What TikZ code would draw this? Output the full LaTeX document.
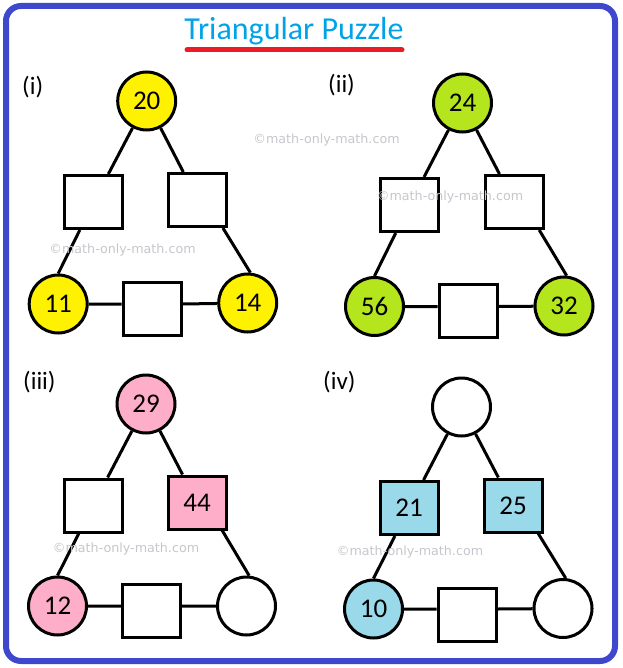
\documentclass[tikz,border=0pt]{standalone}
\usepackage{fontspec}
\setmainfont{Carlito}
\newfontfamily\markfont{DejaVu Sans}
\usepackage{tikz}
\usetikzlibrary{calc}

\definecolor{frameblue}{HTML}{3F48CC}
\definecolor{titleblue}{HTML}{00A2E8}
\definecolor{linered}{HTML}{ED1C24}
\definecolor{sunfill}{HTML}{FFF200}
\definecolor{limefill}{HTML}{B5E61D}
\definecolor{rosefill}{HTML}{FFAEC9}
\definecolor{skyfill}{HTML}{99D9EA}
\definecolor{markgray}{HTML}{C6C6CC}

\begin{document}
\begin{tikzpicture}[x=1pt, y=-1pt,
  numcirc/.style={circle, draw, line width=3pt, minimum size=58pt, inner sep=0pt, fill=white, font=\fontsize{27}{30}\selectfont},
  numbox/.style={rectangle, draw, line width=3pt, minimum width=58pt, minimum height=53pt, inner sep=0pt, fill=white, font=\fontsize{27}{30}\selectfont},
  link/.style={line width=3pt},
  tag/.style={anchor=west, inner sep=0pt, font=\fontsize{25}{28}\selectfont},
  wmark/.style={markgray, inner sep=0pt, font=\markfont\fontsize{12.7}{14}\selectfont}]
  \useasboundingbox (0,0) rectangle (622,668);

  % Frame
  \draw[frameblue, line width=6pt, rounded corners=15pt] (6,6) rectangle (615,661);

  % Title
  \node[titleblue, anchor=base, inner sep=0pt, font=\fontsize{32}{36}\selectfont] (title) at (294,39.3) {Triangular Puzzle};
  \draw[linered, line width=5pt, line cap=round] (187,50) -- (402,50);

  % Labels
  \node[tag] (n1) at (22,87) {(i)};
  \node[tag] (n2) at (328,85) {(ii)};
  \node[tag] (n3) at (23,382) {(iii)};
  \node[tag] (n4) at (323,382) {(iv)};

  % Puzzle (i)
  \begin{scope}[shift={(146.7,101)}]
    \node[numcirc, fill=sunfill] (t1) at (0,0) {20};
    \node[numbox] (l1) at (-53,101) {};
    \node[numbox] (r1) at (51,99) {};
    \node[numcirc, fill=sunfill] (bl1) at (-88.5,203) {11};
    \node[numcirc, fill=sunfill] (br1) at (101,202) {14};
    \node[numbox] (b1) at (5.5,207.5) {};
    \draw[link] (t1) -- (l1) (t1) -- (r1) (l1) -- (bl1.north) (r1.-48) -- (br1.85)
      (bl1) -- (bl1 -| b1.west) (b1.east |- bl1) -- (br1);
  \end{scope}

  % Puzzle (ii)
  \begin{scope}[shift={(462.5,103)}]
    \node[numcirc, fill=limefill] (t2) at (0,0) {24};
    \node[numbox] (l2) at (-53,102) {};
    \node[numbox] (r2) at (51.5,99) {};
    \node[numcirc, fill=limefill] (bl2) at (-88,203.5) {56};
    \node[numcirc, fill=limefill] (br2) at (101.5,203) {32};
    \node[numbox] (b2) at (5.5,208) {};
    \draw[link] (t2) -- (l2) (t2) -- (r2) (l2) -- (bl2.north) (r2.-48) -- (br2.85)
      (bl2) -- (bl2 -| b2.west) (b2.east |- bl2) -- (br2);
  \end{scope}

  % Puzzle (iii)
  \begin{scope}[shift={(146,404)}]
    \node[numcirc, fill=rosefill] (t3) at (0,0) {29};
    \node[numbox] (l3) at (-53,101.5) {};
    \node[numbox, fill=rosefill] (r3) at (51,98.5) {44};
    \node[numcirc, fill=rosefill] (bl3) at (-88.5,202) {12};
    \node[numcirc] (br3) at (100.5,202) {};
    \node[numbox] (b3) at (5.5,206.5) {};
    \draw[link] (t3) -- (l3) (t3) -- (r3) (l3) -- (bl3.north) (r3.-48) -- (br3.85)
      (bl3) -- (bl3 -| b3.west) (b3.east |- bl3) -- (br3);
  \end{scope}

  % Puzzle (iv)
  \begin{scope}[shift={(461.5,407)}]
    \node[numcirc] (t4) at (0,0) {};
    \node[numbox, fill=skyfill] (l4) at (-52.5,101) {21};
    \node[numbox, fill=skyfill] (r4) at (51.5,98.5) {25};
    \node[numcirc, fill=skyfill] (bl4) at (-88,202) {10};
    \node[numcirc] (br4) at (101.5,201.5) {};
    \node[numbox] (b4) at (5.5,207.5) {};
    \draw[link] (t4) -- (l4) (t4) -- (r4) (l4) -- (bl4.north) (r4.-48) -- (br4.85)
      (bl4) -- (bl4 -| b4.west) (b4.east |- bl4) -- (br4);
  \end{scope}

  % Watermarks
  \node[wmark] (w1) at (326.5,140) {©math-only-math.com};
  \node[wmark] (w2) at (122.5,250) {©math-only-math.com};
  \node[wmark] (w3) at (450,197) {©math-only-math.com};
  \node[wmark] (w4) at (126,549) {©math-only-math.com};
  \node[wmark] (w5) at (410,552) {©math-only-math.com};
\end{tikzpicture}
\end{document}
